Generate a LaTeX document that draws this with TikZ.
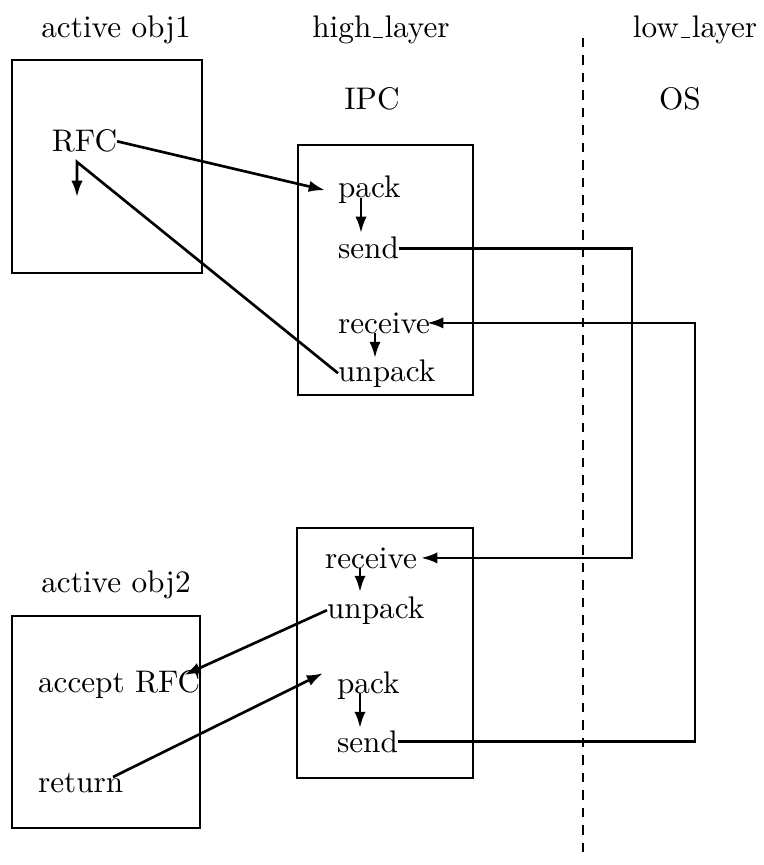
\documentclass[tikz,border=0pt]{standalone}
\usetikzlibrary{calc,arrows.meta}
\newcommand\myus{\leavevmode\kern.06em\vbox{\hrule width.3em height .4pt}\kern.06em}
\begin{document}
\begin{tikzpicture}[x=0.32pt,y=-0.32pt,
  txt/.style={inner sep=0pt,outer sep=0pt,anchor=base west,font=\normalsize},
  lbl/.style={inner sep=0pt,outer sep=0pt,anchor=base,font=\normalsize},
  box/.style={draw,line width=0.75pt},
  conn/.style={line width=0.85pt},
  arr/.style={conn,-{Latex[length=5.2pt,width=3.6pt]}},
  sep/.style={line width=0.7pt,dash pattern=on 3pt off 2.6pt}]
\useasboundingbox (0,0) rectangle (764,865);

% headings
\node[lbl] (h1) at (116,38) {active obj1};
\node[lbl] (h2) at (381,38) {high\myus layer};
\node[lbl] (h3) at (695,38) {low\myus layer};
\node[lbl] (ipc) at (372,110) {IPC};
\node[lbl] (os) at (680,110) {OS};
\node[lbl] (h4) at (116,592) {active obj2};

% boxes
\draw[box] (12,60) rectangle (202,273);
\draw[box] (298,145) rectangle (473,395);
\draw[box] (297,528) rectangle (473,778);
\draw[box] (12,616) rectangle (200,828);

% separator
\coordinate (sepT) at (583,38);
\coordinate (sepB) at (583,860);
\draw[sep] (sepT) -- (sepB);

% texts
\node[txt] (rfc) at (52,152) {RFC};
\node[txt] (pack1) at (338,198) {pack};
\node[txt] (send1) at (338,259) {send};
\node[txt] (recv1) at (338,333) {receive};
\node[txt] (unpack1) at (338,381) {unpack};
\node[txt] (recv2) at (325,568) {receive};
\node[txt] (unpack2) at (327,618) {unpack};
\node[txt] (pack2) at (337,693) {pack};
\node[txt] (send2) at (337,752) {send};
\node[txt] (accept) at (38,692) {accept RFC};
\node[txt] (ret) at (38,792) {return};

% routing columns
\coordinate (colA) at (632,0);
\coordinate (colB) at (695,0);

% object 1
\draw[arr] (rfc.east) -- ($(pack1.west)+(-13,0)$);
\draw[arr] (unpack1.west) -- ($(rfc.base west)+(25,10)$) -- ($(rfc.base west)+(25,45)$);

% IPC 1
\draw[arr] ($(pack1.base west)+(23,0)$) -- ($(send1.base west)+(23,-26)$);
\draw[arr] ($(recv1.base west)+(37,0)$) -- ($(unpack1.base west)+(37,-23)$);

% OS routes
\draw[arr] (send1.east) -- (send1.east -| colA) -- (recv2.east -| colA) -- ($(recv2.east)+(4,0)$);
\draw[arr] (send2.east) -- (send2.east -| colB) -- (recv1.east -| colB) -- ($(recv1.east)+(-3,0)$);

% IPC 2
\draw[arr] ($(recv2.base west)+(35,0)$) -- ($(unpack2.base west)+(33,-26)$);
\draw[arr] ($(pack2.base west)+(23,0)$) -- ($(send2.base west)+(23,-24)$);

% object 2
\draw[arr] (unpack2.west) -- ($(accept.east)+(-16,-9)$);
\draw[arr] ($(ret.base west)+(75,-15)$) -- ($(pack2.west)+(-14,-12)$);
\end{tikzpicture}
\end{document}
